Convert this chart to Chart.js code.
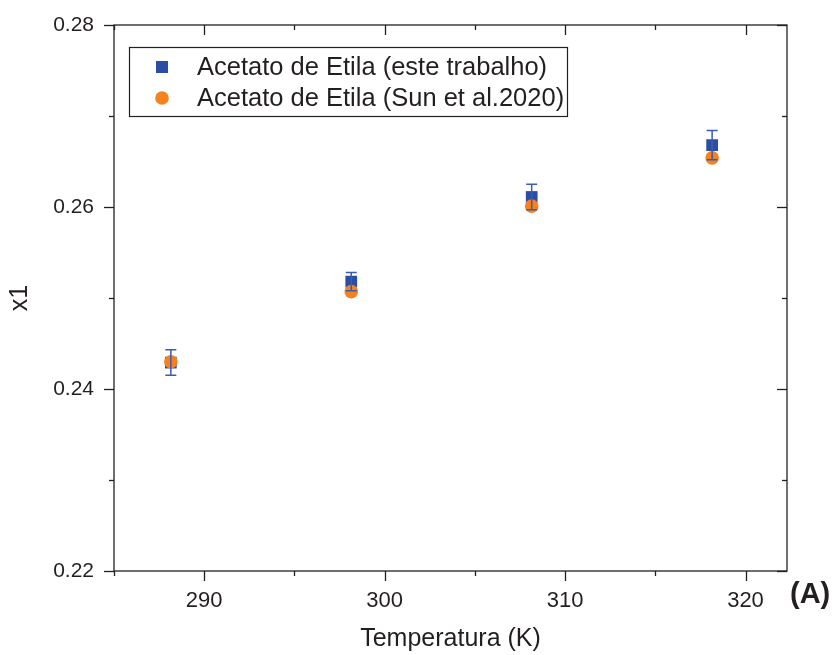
<!DOCTYPE html>
<html><head><meta charset="utf-8">
<script src="https://cdn.jsdelivr.net/npm/chart.js@4.4.0/dist/chart.umd.min.js"></script>
<style>html,body{margin:0;padding:0;background:#fff}#wrap{width:836px;height:655px;position:relative}</style>
</head><body><div id="wrap"><canvas id="c" width="836" height="655"></canvas></div>
<script>
const temperatures = [288.15, 298.15, 308.15, 318.15];
const thisWork = [0.2429, 0.2518, 0.2611, 0.2668];
const thisWorkErr = [0.0014, 0.0010, 0.0014, 0.0016];
const sun2020 = [0.2430, 0.2507, 0.2601, 0.2654];
const seriesLabels = ['Acetato de Etila (este trabalho)', 'Acetato de Etila (Sun et al.2020)'];
const xTickValues = [285, 290, 295, 300, 305, 310, 315, 320];
const yTickValues = [0.22, 0.23, 0.24, 0.25, 0.26, 0.27, 0.28];
const xTitle = 'Temperatura (K)';
const yTitle = 'x1';
const panelLabel = '(A)';

const BLUE = '#2b4ea2', ORANGE = '#f5821f', INK = '#231f20';
const FONT = "'Liberation Sans', Arial, sans-serif";
Chart.defaults.font.family = FONT;
Chart.defaults.color = INK;

const isMult = (v, m) => Math.abs(v / m - Math.round(v / m)) < 1e-6;

const framePlugin = {
  id: 'frame',
  beforeDatasetsDraw(chart) {
    const {ctx, chartArea: {left, right, top, bottom}, scales: {x, y}} = chart;
    ctx.save();
    ctx.strokeStyle = INK; ctx.lineWidth = 1.3;
    ctx.strokeRect(left, top, right - left, bottom - top);
    const line = (a, b, c, d) => { ctx.beginPath(); ctx.moveTo(a, b); ctx.lineTo(c, d); ctx.stroke(); };
    x.ticks.forEach(t => {
      const v = t.value;
      const len = isMult(v, 10) ? 10 : 5;
      const px = Math.round(x.getPixelForValue(v)) + 0.5;
      line(px, bottom, px, bottom + len);
      line(px, top, px, top + len);
    });
    y.ticks.forEach(t => {
      const v = t.value;
      const len = isMult(v, 0.02) ? 10 : 5;
      const py = Math.round(y.getPixelForValue(v)) + 0.5;
      line(left - len, py, left, py);
      line(right - len, py, right, py);
    });
    ctx.restore();
  },
  afterDatasetsDraw(chart) {
    const {ctx, scales: {x, y}} = chart;
    ctx.save();
    ctx.strokeStyle = '#3d5cb0'; ctx.lineWidth = 1.5;
    temperatures.forEach((t, i) => {
      const px = x.getPixelForValue(t);
      const y1 = y.getPixelForValue(thisWork[i] + thisWorkErr[i]);
      const y2 = y.getPixelForValue(thisWork[i] - thisWorkErr[i]);
      ctx.beginPath();
      ctx.moveTo(px, y1); ctx.lineTo(px, y2);
      ctx.moveTo(px - 5.5, y1); ctx.lineTo(px + 5.5, y1);
      ctx.moveTo(px - 5.5, y2); ctx.lineTo(px + 5.5, y2);
      ctx.stroke();
    });
    ctx.restore();
  },
  afterDraw(chart) {
    const {ctx, chartArea: {left, top, right, bottom}} = chart;
    ctx.save();
    // legend
    const bx = left + 15, by = top + 22, bw = 438, bh = 69;
    ctx.strokeStyle = INK; ctx.lineWidth = 1.2;
    ctx.strokeRect(bx + 0.5, by + 0.5, bw, bh);
    ctx.fillStyle = BLUE;
    ctx.fillRect(bx + 27, by + 14, 12, 12);
    ctx.fillStyle = ORANGE;
    ctx.beginPath(); ctx.arc(bx + 33, by + 51, 6.8, 0, Math.PI * 2); ctx.fill();
    ctx.fillStyle = INK;
    ctx.font = "25.5px " + FONT;
    ctx.textBaseline = 'middle'; ctx.textAlign = 'left';
    ctx.fillText(chart.data.datasets[0].label, bx + 68, by + 21);
    ctx.fillText(chart.data.datasets[1].label, bx + 68, by + 52);
    // panel label
    ctx.font = "bold 29px " + FONT;
    ctx.fillText(panelLabel, right + 3, bottom + 24);
    ctx.restore();
  }
};

new Chart(document.getElementById('c'), {
  type: 'scatter',
  data: {
    datasets: [
      {
        label: seriesLabels[0],
        data: temperatures.map((t, i) => ({x: t, y: thisWork[i]})),
        pointStyle: 'rect', pointRadius: 8.3, borderWidth: 0,
        backgroundColor: BLUE, borderColor: BLUE, order: 1
      },
      {
        label: seriesLabels[1],
        data: temperatures.map((t, i) => ({x: t, y: sun2020[i]})),
        pointStyle: 'circle', pointRadius: 6.8, borderWidth: 0,
        backgroundColor: ORANGE, borderColor: ORANGE, order: 0
      }
    ]
  },
  options: {
    responsive: false,
    animation: false,
    devicePixelRatio: 1,
    layout: {padding: {top: 25, right: 49, left: 0, bottom: 0}},
    plugins: {legend: {display: false}, tooltip: {enabled: false}},
    scales: {
      x: {
        type: 'linear', min: 285, max: 322.3,
        afterBuildTicks: s => { s.ticks = xTickValues.map(v => ({value: v})); },
        afterFit: s => { s.height = 84; s.paddingLeft = 0; s.paddingRight = 0; },
        grid: {display: false, drawTicks: false},
        border: {display: false},
        ticks: {
          autoSkip: false, maxRotation: 0, padding: 17,
          font: {size: 22}, color: INK,
          callback: v => (isMult(v, 10) ? String(Math.round(v)) : '')
        },
        title: {display: true, text: xTitle, font: {size: 25}, color: INK, padding: {top: 0, bottom: 1}}
      },
      y: {
        type: 'linear', min: 0.22, max: 0.28,
        afterBuildTicks: s => { s.ticks = yTickValues.map(v => ({value: v})); },
        afterFit: s => { s.width = 114; s.paddingTop = 0; s.paddingBottom = 0; },
        grid: {display: false, drawTicks: false},
        border: {display: false},
        ticks: {
          autoSkip: false, padding: 20,
          font: {size: 21}, color: INK,
          callback: v => (isMult(v, 0.02) ? v.toFixed(2) : '')
        },
        title: {display: true, text: yTitle, font: {size: 25}, color: INK, padding: {top: 5, bottom: 0}}
      }
    }
  },
  plugins: [framePlugin]
});
</script>
</body></html>
